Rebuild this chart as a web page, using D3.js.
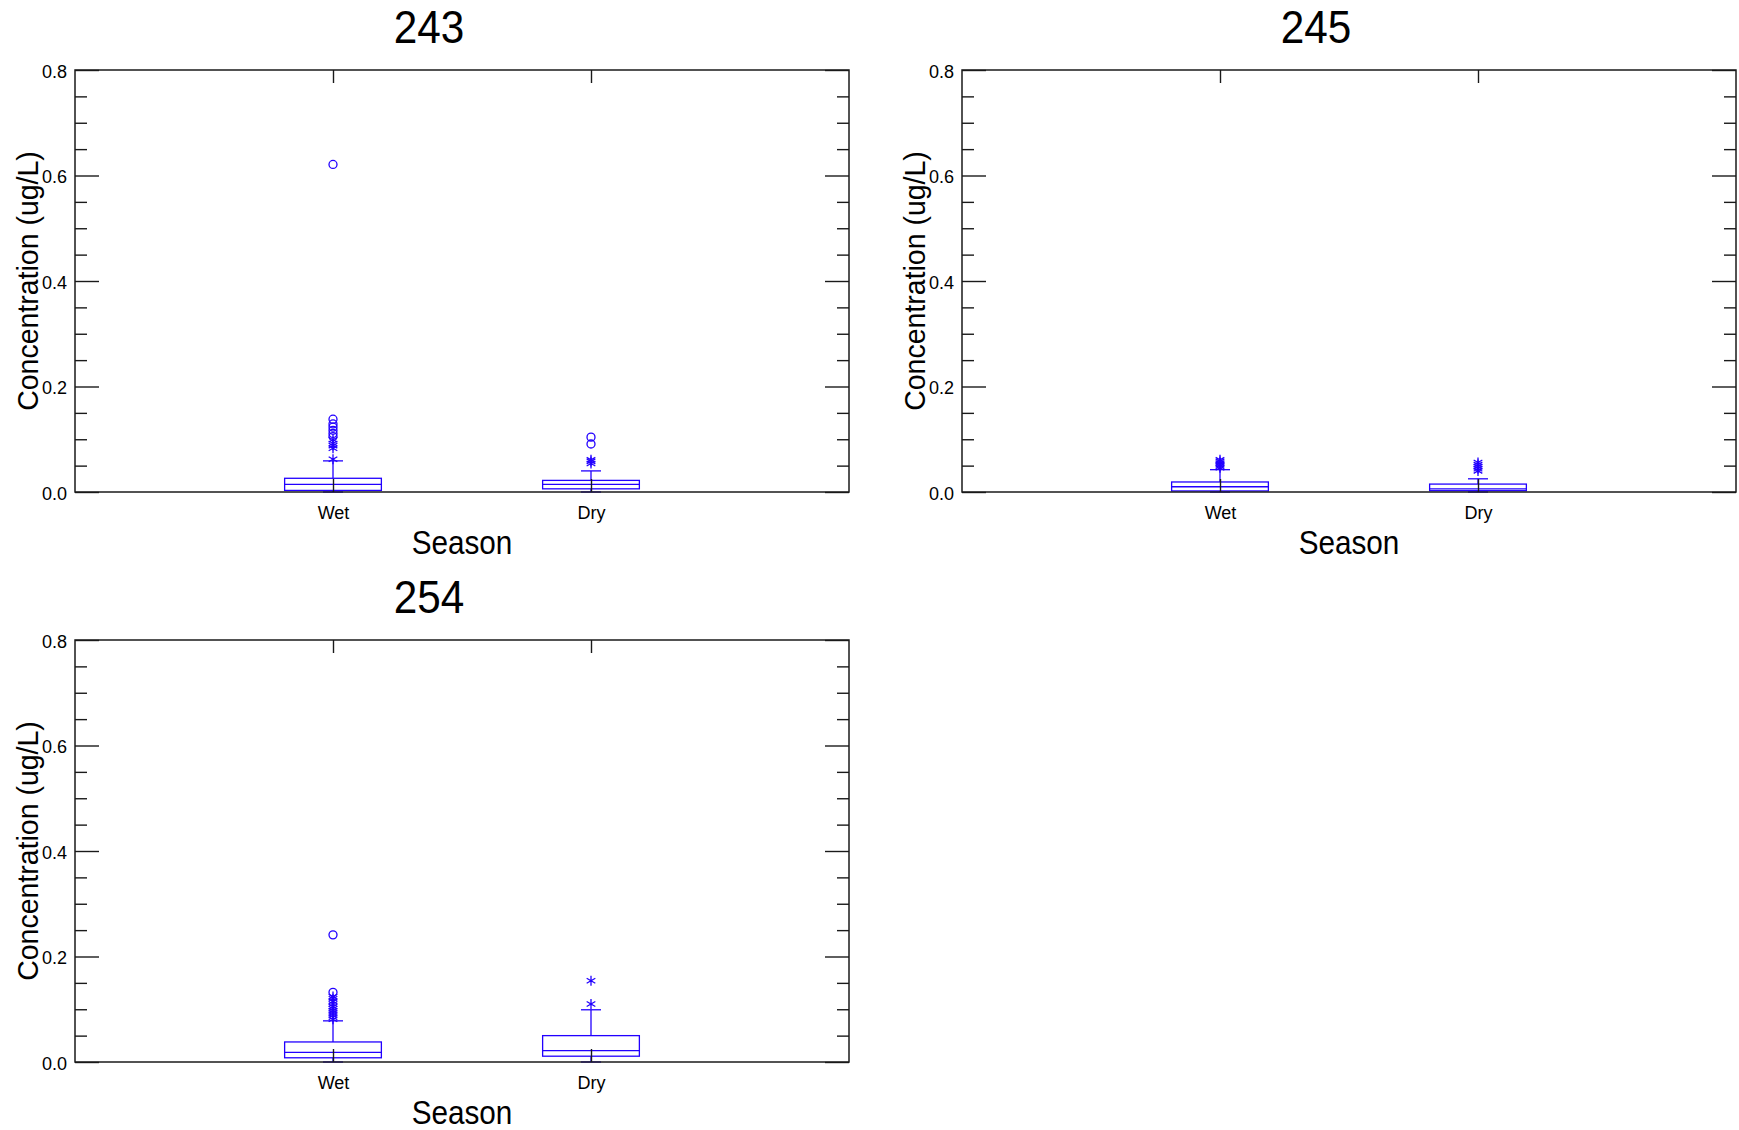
<!DOCTYPE html>
<html>
<head>
<meta charset="utf-8">
<script src="https://cdn.jsdelivr.net/npm/d3@7"></script>
<style>
  body { margin: 0; background: #fff; }
  svg { display: block; font-family: "Liberation Sans", Arial, sans-serif; }
</style>
</head>
<body>
<svg id="chart"></svg>
<script>
// station ids and groups
const panelIds = ["243", "245", "254"];
const seasons = ["Wet", "Dry"];
const yTicks = [0, 0.2, 0.4, 0.6, 0.8];
const yMinorTicks = [0.05, 0.1, 0.15, 0.25, 0.3, 0.35, 0.45, 0.5, 0.55, 0.65, 0.7, 0.75];

// box stats, one row per station, [Wet, Dry]
const whiskerLow = [[0, 0], [0, 0], [0, 0]];
const q1Vals = [[0.003, 0.006], [0.002, 0.0025], [0.008, 0.011]];
const medianVals = [[0.0146, 0.0145], [0.010, 0.006], [0.0184, 0.0214]];
const q3Vals = [[0.026, 0.022], [0.019, 0.015], [0.038, 0.050]];
const whiskerHigh = [[0.059, 0.040], [0.0423, 0.025], [0.078, 0.099]];

// outliers: stars = outside inner fence, circles = outside outer fence
const starOutliers = [
  [[0.062, 0.083, 0.088, 0.092, 0.099], [0.054, 0.058, 0.061]],
  [[0.046, 0.049, 0.052, 0.055, 0.058, 0.061], [0.040, 0.044, 0.048, 0.052, 0.056]],
  [[0.081, 0.085, 0.089, 0.093, 0.097, 0.101, 0.105, 0.110, 0.115, 0.120, 0.124], [0.110, 0.154]]
];
const circleOutliers = [
  [[0.105, 0.111, 0.117, 0.123, 0.129, 0.138, 0.621], [0.091, 0.104]],
  [[], []],
  [[0.132, 0.241], []]
];

const W = 1739, H = 1130;
const pw = 774, ph = 422;
const panelX = [75, 962, 75];
const panelY = [70, 70, 640];
const blue = "#2200ff";
const ink = "#1a1a1a";

const svg = d3.select("#chart").attr("width", W).attr("height", H);

// text helper with horizontal squeeze (source font is narrow)
function label(g, x, y, str, size, sx, anchor, rot) {
  g.append("text")
    .attr("transform", `translate(${x},${y}) rotate(${rot || 0}) scale(${sx},1)`)
    .attr("text-anchor", anchor || "middle")
    .attr("font-size", size)
    .attr("fill", "#000")
    .text(str);
}

panelIds.forEach((id, p) => {
  const g = svg.append("g").attr("transform", `translate(${panelX[p]},${panelY[p]})`);

  const x = d3.scalePoint().domain(seasons).range([0, pw]).padding(1);
  const y = d3.scaleLinear().domain([0, 0.8]).range([ph, 0]);
  const boxW = pw * 0.125;
  const capW = 20;

  // boxes
  seasons.forEach((s, i) => {
    const cx = x(s);
    const bg = g.append("g").attr("fill", "none").attr("stroke", blue).attr("stroke-width", 1.3);
    bg.append("rect")
      .attr("x", cx - boxW / 2).attr("y", y(q3Vals[p][i]))
      .attr("width", boxW).attr("height", y(q1Vals[p][i]) - y(q3Vals[p][i]));
    bg.append("line")
      .attr("x1", cx - boxW / 2).attr("x2", cx + boxW / 2)
      .attr("y1", y(medianVals[p][i])).attr("y2", y(medianVals[p][i]));
    bg.append("line")
      .attr("x1", cx).attr("x2", cx)
      .attr("y1", y(q3Vals[p][i])).attr("y2", y(whiskerHigh[p][i]));
    bg.append("line")
      .attr("x1", cx).attr("x2", cx)
      .attr("y1", y(q1Vals[p][i])).attr("y2", y(whiskerLow[p][i]));
    [whiskerHigh[p][i], whiskerLow[p][i]].forEach(v => {
      bg.append("line")
        .attr("x1", cx - capW / 2).attr("x2", cx + capW / 2)
        .attr("y1", y(v)).attr("y2", y(v));
    });

    bg.selectAll(".star")
      .data(starOutliers[p][i])
      .join("path")
      .attr("class", "star")
      .attr("transform", d => `translate(${cx},${y(d)})`)
      .attr("d", d3.symbol(d3.symbolAsterisk, 70));

    bg.selectAll(".circ")
      .data(circleOutliers[p][i])
      .join("circle")
      .attr("class", "circ")
      .attr("cx", cx).attr("cy", d => y(d)).attr("r", 4);
  });

  // axes, ticks all point inward
  const axL = g.append("g").call(d3.axisLeft(y).tickValues(yTicks).tickSize(-24)
    .tickPadding(8).tickFormat(d3.format(".1f")));
  const axLm = g.append("g").call(d3.axisLeft(y).tickValues(yMinorTicks).tickSize(-12).tickFormat(""));
  const axR = g.append("g").attr("transform", `translate(${pw},0)`)
    .call(d3.axisRight(y).tickValues(yTicks).tickSize(-24).tickFormat(""));
  const axRm = g.append("g").attr("transform", `translate(${pw},0)`)
    .call(d3.axisRight(y).tickValues(yMinorTicks).tickSize(-12).tickFormat(""));
  const axT = g.append("g").call(d3.axisTop(x).tickSize(-13).tickFormat(""));
  const axB = g.append("g").attr("transform", `translate(0,${ph})`)
    .call(d3.axisBottom(x).tickSize(-13).tickPadding(14));

  [axL, axLm, axR, axRm, axT, axB].forEach(a => {
    a.select(".domain").remove();
    a.selectAll("line").attr("stroke", ink).attr("stroke-width", 1.4);
    a.selectAll("text").attr("font-size", 18).attr("fill", "#000")
      .attr("font-family", "'Liberation Sans', Arial, sans-serif");
  });
  axL.selectAll("text").attr("dy", "0.4em");

  // frame
  g.append("rect")
    .attr("width", pw).attr("height", ph)
    .attr("fill", "none").attr("stroke", ink).attr("stroke-width", 1.5);

  // titles
  label(g, 354, -27, id, 47, 0.9);
  label(g, pw / 2, ph + 62, "Season", 33, 0.9);
  label(g, -37, ph / 2, "Concentration (ug/L)", 30, 0.95, "middle", -90);
});
</script>
</body>
</html>
